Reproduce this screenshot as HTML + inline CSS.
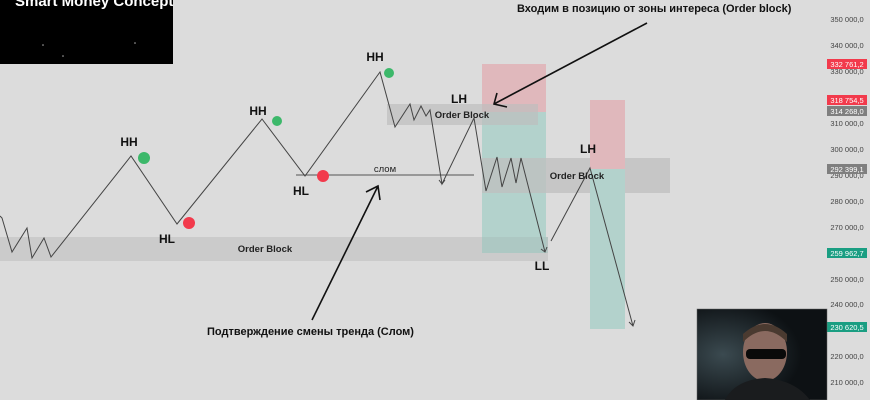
<!DOCTYPE html>
<html><head><meta charset="utf-8"><style>
html,body{margin:0;padding:0;background:#dcdcdc;}
svg{display:block;font-family:"Liberation Sans","DejaVu Sans",sans-serif;}
</style></head><body>
<svg width="870" height="400" viewBox="0 0 870 400" xmlns="http://www.w3.org/2000/svg">
<rect width="870" height="400" fill="#dcdcdc"/>
<rect x="0" y="0" width="173" height="64" fill="#000"/>
<text x="15" y="6" fill="#fff" font-size="15" font-weight="bold">Smart Money Concept</text>
<circle cx="43" cy="45" r="0.8" fill="#aaa"/><circle cx="63" cy="56" r="0.8" fill="#aaa"/><circle cx="135" cy="43" r="0.8" fill="#aaa"/>
<rect x="0" y="237" width="548" height="24" fill="#cbcbcb"/>
<rect x="482" y="64" width="64" height="48" fill="#e0b8bc"/>
<rect x="482" y="112" width="64" height="141" fill="#b3d2cc"/>
<rect x="387" y="104" width="151" height="21" fill="#bdbdbd" opacity="0.7"/>
<rect x="482" y="158" width="188" height="35" fill="#bfbfbf" opacity="0.75"/>
<rect x="590" y="100" width="35" height="69" fill="#e0b8bc"/>
<rect x="590" y="169" width="35" height="160" fill="#b3d2cc"/>
<rect x="482" y="237" width="66" height="16" fill="#a9c2bd" opacity="0.6"/>
<line x1="296" y1="175" x2="474" y2="175" stroke="#555" stroke-width="1"/>
<polyline fill="none" stroke="#444" stroke-width="1" points="0,216 2,218 12,252 27,228 32,258 44,238 51,257 131,156 177,224 262,119 305,176 380,72 395,127 410,104 414,120 421,106 426,116 430,110 442,184 474,118 486,191 497,157 502,187 511,158 516,183 521,158 545,252"/>
<polyline fill="none" stroke="#444" stroke-width="1" points="439,180 442,184 445,180"/>
<polyline fill="none" stroke="#444" stroke-width="1" points="541,249 545,252 547,247"/>
<polyline fill="none" stroke="#444" stroke-width="1" points="551,241 590,168 633,326"/>
<polyline fill="none" stroke="#444" stroke-width="1" points="629,322 633,326 635,320"/>
<circle cx="144" cy="158" r="6" fill="#3cb86a"/>
<circle cx="189" cy="223" r="6" fill="#f23a4c"/>
<circle cx="277" cy="121" r="5" fill="#3cb86a"/>
<circle cx="323" cy="176" r="6" fill="#f23a4c"/>
<circle cx="389" cy="73" r="5" fill="#3cb86a"/>
<g font-size="12" font-weight="bold" fill="#111" text-anchor="middle">
<text x="129" y="146">HH</text>
<text x="167" y="243">HL</text>
<text x="258" y="115">HH</text>
<text x="301" y="195">HL</text>
<text x="375" y="61">HH</text>
<text x="459" y="103">LH</text>
<text x="542" y="270">LL</text>
<text x="588" y="153">LH</text>
</g>
<g font-size="9.5" font-weight="bold" fill="#222" text-anchor="middle">
<text x="265" y="252">Order Block</text>
<text x="462" y="118">Order Block</text>
<text x="577" y="179">Order Block</text>
<text x="385" y="172" font-weight="normal">слом</text>
</g>
<line x1="647" y1="23" x2="494" y2="104" stroke="#111" stroke-width="1.6"/>
<polyline points="497,93 494,104 507,107" fill="none" stroke="#111" stroke-width="1.6"/>
<line x1="312" y1="320" x2="378" y2="186" stroke="#111" stroke-width="1.6"/>
<polyline points="366,192 378,186 380,200" fill="none" stroke="#111" stroke-width="1.6"/>
<g font-size="11" font-weight="bold" fill="#111">
<text x="517" y="12">Входим в позицию от зоны интереса (Order block)</text>
<text x="207" y="335">Подтверждение смены тренда (Слом)</text>
</g>
<g font-size="7.5" fill="#444" text-anchor="middle">
<text x="847" y="22">350 000,0</text>
<text x="847" y="48">340 000,0</text>
<text x="847" y="74">330 000,0</text>
<text x="847" y="126">310 000,0</text>
<text x="847" y="152">300 000,0</text>
<text x="847" y="178">290 000,0</text>
<text x="847" y="204">280 000,0</text>
<text x="847" y="230">270 000,0</text>
<text x="847" y="282">250 000,0</text>
<text x="847" y="307">240 000,0</text>
<text x="847" y="359">220 000,0</text>
<text x="847" y="385">210 000,0</text>
</g>
<rect x="827" y="59" width="40" height="10" fill="#f23a4c"/>
<rect x="827" y="95" width="40" height="10" fill="#f23a4c"/>
<rect x="827" y="106" width="40" height="10" fill="#7f7f7f"/>
<rect x="827" y="164" width="40" height="10" fill="#7f7f7f"/>
<rect x="827" y="248" width="40" height="10" fill="#1a9e82"/>
<rect x="827" y="322" width="40" height="10" fill="#1a9e82"/>
<g font-size="7.5" fill="#fff" text-anchor="middle">
<text x="847" y="67">332 761,2</text>
<text x="847" y="103">318 754,5</text>
<text x="847" y="114">314 268,0</text>
<text x="847" y="172">292 399,1</text>
<text x="847" y="256">259 962,7</text>
<text x="847" y="330">230 620,5</text>
</g>
<defs><radialGradient id="g" cx="0.2" cy="0.5" r="0.6"><stop offset="0" stop-color="#3b4a50"/><stop offset="1" stop-color="#0d1114"/></radialGradient></defs>
<rect x="697" y="309" width="130" height="91" fill="url(#g)" stroke="#666" stroke-width="0.5"/>
<ellipse cx="765" cy="352" rx="22" ry="29" fill="#8a6a60"/>
<path d="M743 342 Q765 320 787 342 L787 334 Q765 314 743 334Z" fill="#4a3a30"/>
<rect x="746" y="349" width="40" height="10" rx="4" fill="#0a0a0a"/>
<path d="M725 400 Q735 380 765 378 Q795 380 810 400Z" fill="#1a1c1e"/>
</svg>
</body></html>
